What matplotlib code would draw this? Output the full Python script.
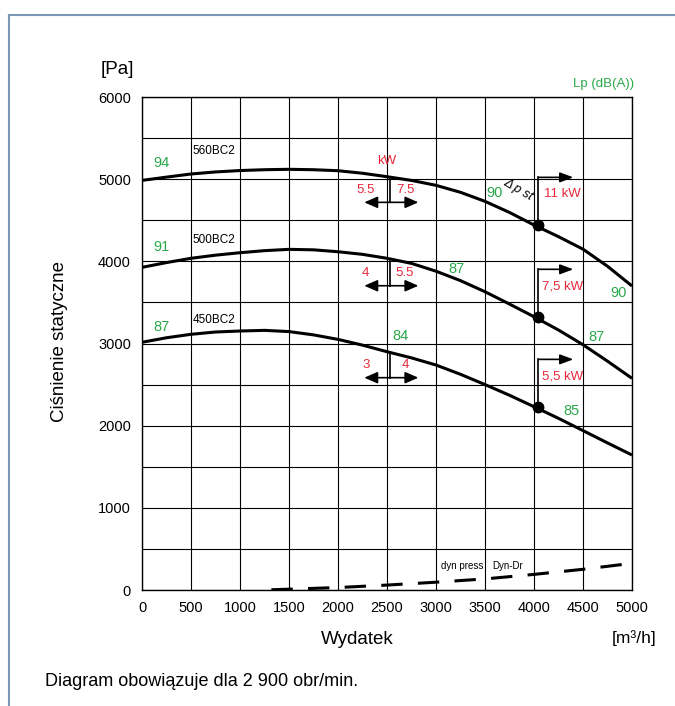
import matplotlib.pyplot as plt
from matplotlib import font_manager
from matplotlib.lines import Line2D

plt.rcParams['font.family'] = ['Liberation Sans', 'DejaVu Sans']

# flow [m3/h]
flow = [0, 250, 500, 750, 1000, 1250, 1500, 1750, 2000, 2250, 2500,
        2750, 3000, 3250, 3500, 3750, 4000, 4250, 4500, 4750, 5000]
# static pressure [Pa]
p_560 = [4985, 5025, 5063, 5088, 5105, 5115, 5120, 5115, 5103, 5072, 5030,
         4985, 4925, 4840, 4730, 4595, 4442, 4300, 4148, 3940, 3700]
p_500 = [3927, 3985, 4037, 4075, 4105, 4130, 4146, 4140, 4117, 4085, 4037,
         3975, 3880, 3765, 3630, 3480, 3326, 3164, 2985, 2785, 2576]
p_450 = [3015, 3070, 3112, 3140, 3152, 3160, 3145, 3105, 3050, 2980, 2900,
         2825, 2738, 2625, 2500, 2370, 2231, 2089, 1940, 1790, 1643]
curve_names = ["560BC2", "500BC2", "450BC2"]
curve_name_y = [5340, 4260, 3290]

# dynamic pressure
dyn_flow = [1320, 1500, 2000, 2500, 3000, 3500, 4000, 4500, 5000]
dyn_p = [3, 10, 30, 60, 95, 135, 190, 252, 325]

# operating points
op_flow = 4045
op_p = [4442, 3326, 2231]
op_labels = ["11 kW", "7,5 kW", "5,5 kW"]
op_label_p = [4816, 3691, 2604]
op_arrow_p = [5022, 3903, 2807]

# motor change markers
kw_flow = 2530
kw_left = ["5.5", "4", "3"]
kw_right = ["7.5", "5.5", "4"]
kw_arrow_p = [4718, 3703, 2584]
kw_curve_p = [5025, 4032, 2895]
kw_label_p = [4868, 3854, 2738]

# sound levels Lp dB(A)
lp_text = ["94", "91", "87", "90", "87", "84", "90", "87", "85"]
lp_x = [200, 200, 200, 3602, 3211, 2633, 4860, 4640, 4378]
lp_y = [5200, 4180, 3200, 4828, 3906, 3095, 3611, 3083, 2182]

GREEN = "#2aa84a"
RED = "#e8283a"

fig = plt.figure(figsize=(6.75, 7.06), dpi=100)
ax = fig.add_axes([0.2104, 0.1643, 0.7259, 0.6983])

for p in (p_560, p_500, p_450):
    ax.plot(flow, p, color="black", lw=2.2, solid_capstyle="butt")
ax.plot(dyn_flow, dyn_p, color="black", lw=2.2, dashes=(7, 5))

ax.set_xlim(0, 5000)
ax.set_ylim(0, 6000)
ax.set_xticks(range(0, 5001, 500))
ax.set_yticks(range(0, 6001, 1000))
ax.set_yticks(range(0, 6001, 500), minor=True)
ax.grid(True, which="both", color="black", lw=0.8)
ax.tick_params(length=0, labelsize=10.5, pad=8)
ax.tick_params(axis="y", which="minor", length=0)
for s in ax.spines.values():
    s.set_linewidth(1.0)

for name, y in zip(curve_names, curve_name_y):
    ax.text(520, y, name, fontsize=8.5, ha="left", va="center")

for t, x, y in zip(lp_text, lp_x, lp_y):
    ax.text(x, y, t, color=GREEN, fontsize=10.5, ha="center", va="center")

# kW change arrows
head = "-|>,head_length=0.8,head_width=0.35"
for cp, ap, lp, l, r in zip(kw_curve_p, kw_arrow_p, kw_label_p, kw_left, kw_right):
    ax.plot([kw_flow, kw_flow], [cp, ap], color="black", lw=1.2)
    for tip in (2268, 2820):
        ax.annotate("", xy=(tip, ap), xytext=(kw_flow, ap),
                    arrowprops=dict(arrowstyle=head, color="black", lw=1.2,
                                    shrinkA=0, shrinkB=0))
    ax.text(2283, lp, l, color=RED, fontsize=9.5, ha="center", va="center")
    ax.text(2684, lp, r, color=RED, fontsize=9.5, ha="center", va="center")
ax.text(2497, 5225, "kW", color=RED, fontsize=9.5, ha="center", va="center")

# operating points
for p, ap, lp, lab in zip(op_p, op_arrow_p, op_label_p, op_labels):
    ax.plot(op_flow, p, "o", color="black", ms=7.5)
    ax.plot([op_flow, op_flow], [p, ap], color="black", lw=1.2)
    ax.annotate("", xy=(4401, ap), xytext=(op_flow, ap),
                arrowprops=dict(arrowstyle="-|>,head_length=0.8,head_width=0.3",
                                color="black", lw=1.2, shrinkA=0, shrinkB=0))
    ax.text(4290, lp, lab, color=RED, fontsize=9.5, ha="center", va="center")

ax.text(3840, 4870, "Δ p st", fontsize=9, rotation=-30, ha="center", va="center",
        style="italic")

ax.text(3270, 290, "dyn press", fontsize=7, ha="center", va="center")
ax.text(3730, 290, "Dyn-Dr", fontsize=7, ha="center", va="center")

# axis labels
fig.text(117 / 675, 1 - 70 / 706, "[Pa]", fontsize=13.5, ha="center", va="center")
fig.text(634 / 675, 1 - 84 / 706, "Lp (dB(A))", fontsize=9.5, color=GREEN,
         ha="right", va="center")
fig.text(60 / 675, 1 - 342 / 706, "Ciśnienie statyczne", fontsize=13.5,
         rotation=90, ha="center", va="center")
fig.text(357 / 675, 1 - 640 / 706, "Wydatek", fontsize=13.5, ha="center", va="center")
fig.text(634 / 675, 1 - 638 / 706, "[m³/h]", fontsize=12.5, ha="center", va="center")

# footnote in a narrow face if available
try:
    font_manager.findfont("Liberation Sans Narrow", fallback_to_default=False)
    note_family, note_size = ["Liberation Sans Narrow", "DejaVu Sans"], 15.5
except ValueError:
    note_family, note_size = ["Liberation Sans", "DejaVu Sans"], 13
fig.text(45 / 675, 1 - 682 / 706, "Diagram obowiązuje dla 2 900 obr/min.",
         fontsize=note_size, ha="left", va="center", family=note_family)

# frame
frame_color = "#7b98b8"
fig.add_artist(Line2D([9 / 675, 1.0], [1 - 15 / 706] * 2, color=frame_color, lw=1.5,
                      transform=fig.transFigure))
fig.add_artist(Line2D([9 / 675] * 2, [0, 1 - 15 / 706], color=frame_color, lw=1.5,
                      transform=fig.transFigure))

fig.savefig("out.png", dpi=100)
